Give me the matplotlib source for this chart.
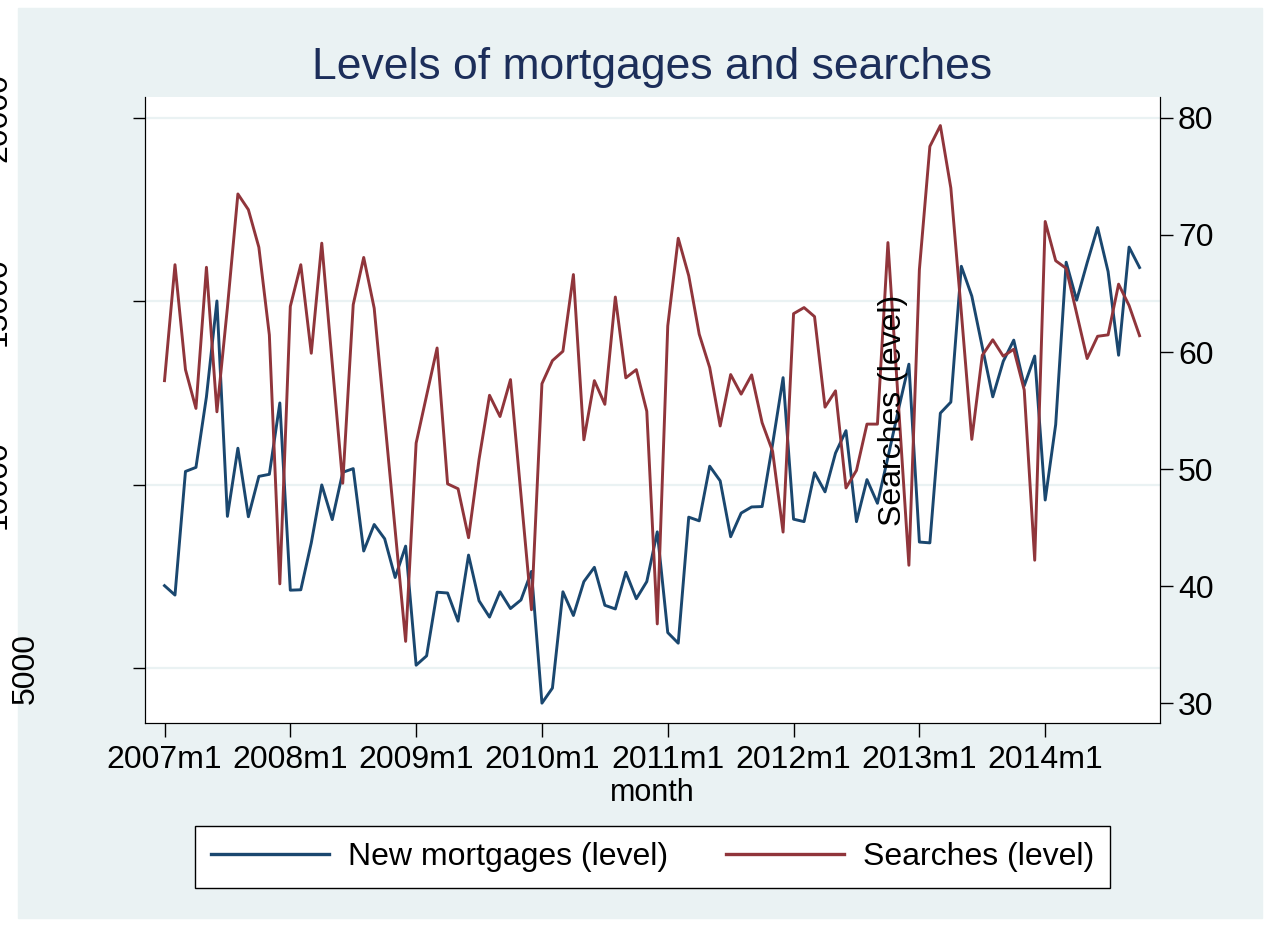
import matplotlib
matplotlib.use('Agg')
import matplotlib.pyplot as plt
from matplotlib.patches import Rectangle
from matplotlib.lines import Line2D

plt.rcParams['font.family'] = ['Liberation Sans', 'DejaVu Sans']

# monthly data, 2007m1 .. 2014m10
years = [2007, 2008, 2009, 2010, 2011, 2012, 2013, 2014]
tick_labels = ['2007m1', '2008m1', '2009m1', '2010m1', '2011m1', '2012m1', '2013m1', '2014m1']

mortgages = [
    7256, 7000, 10367, 10478, 12400, 15011, 9144, 11000, 9133, 10233, 10289, 12233,
    7133, 7144, 8422, 10000, 9056, 10344, 10444, 8200, 8922, 8533, 7478, 8333,
    5089, 5344, 7078, 7056, 6289, 8089, 6844, 6400, 7089, 6633, 6867, 7644,
    4056, 4467, 7089, 6444, 7367, 7756, 6722, 6622, 7622, 6900, 7367, 8722,
    5978, 5689, 9122, 9022, 10511, 10111, 8589, 9233, 9400, 9411, 11111, 12922,
    9067, 9000, 10333, 9811, 10867, 11478, 9000, 10144, 9500, 10750, 12050, 13289,
    8444, 8422, 11956, 12256, 15956, 15144, 13756, 12400, 13367, 13944, 12700, 13511,
    9589, 11644, 16067, 15033, 16050, 17011, 15811, 13533, 16478, 15922,
]

searches = [
    57.56, 67.46, 58.5, 55.19, 67.24, 54.9, 63.8, 73.5, 72.16, 68.95, 61.46, 40.21,
    63.9, 67.46, 59.9, 69.3, 59.0, 48.8, 64.05, 68.08, 63.75, 54.3, 44.8, 35.3,
    52.23, 56.3, 60.35, 48.75, 48.33, 44.15, 50.84, 56.31, 54.5, 57.65, 47.8, 38.0,
    57.3, 59.27, 60.07, 66.62, 52.51, 57.56, 55.54, 64.7, 57.8, 58.5, 54.95, 36.79,
    62.23, 69.72, 66.52, 61.53, 58.68, 53.69, 58.08, 56.41, 58.05, 53.97, 51.53, 44.63,
    63.28, 63.8, 63.03, 55.3, 56.69, 48.4, 49.9, 53.85, 53.85, 69.35, 55.6, 41.8,
    67.04, 77.56, 79.34, 74.01, 63.4, 52.55, 59.72, 61.05, 59.65, 60.24, 56.76, 42.23,
    71.15, 67.8, 67.15, 63.3, 59.45, 61.35, 61.47, 65.8, 63.98, 61.4,
]

left_ticks = [5000, 10000, 15000, 20000]
right_ticks = [30, 40, 50, 60, 70, 80]

months = list(range(len(mortgages)))
tick_pos = [12 * i for i in range(len(years))]

navy = '#1A476F'
maroon = '#90353B'
bg = '#EAF2F3'

fig = plt.figure(figsize=(12.72, 9.26), dpi=100, facecolor='white')
fig.patches.append(Rectangle((18 / 1272, 1 - 918 / 926), (1262 - 18) / 1272, (918 - 8) / 926,
                             transform=fig.transFigure, color=bg, zorder=-1))

ax = fig.add_axes([145 / 1272, 1 - 723 / 926, (1160 - 145) / 1272, (723 - 97) / 926])
ax.set_facecolor('white')
ax.plot(months, mortgages, color=navy, lw=2.1)
ax.set_xlim(-1.86, 94.95)
ax.set_ylim(3515, 20567)
ax.set_yticks(left_ticks)
ax.set_yticklabels([])
ax.yaxis.grid(True, color=bg, lw=1.6)
ax.set_axisbelow(True)
ax.set_xticks(tick_pos)
ax.set_xticklabels(tick_labels, fontsize=23)
ax.tick_params(axis='x', length=10, width=1, pad=6)
ax.tick_params(axis='y', length=9, width=1)
ax.set_xlabel('month', fontsize=22, labelpad=2)
ax.spines['top'].set_visible(False)

# left tick labels, rotated and pushed to the edge like the original export
for v, xoff in zip(left_ticks, [26, -2, -2, -2]):
    ax.text((xoff - 145) / 1015, v, str(v), transform=ax.get_yaxis_transform(),
            rotation=90, ha='center', va='center', fontsize=23)

ax2 = ax.twinx()
ax2.plot(months, searches, color=maroon, lw=2.1)
ax2.set_ylim(28.33, 81.78)
ax2.set_yticks(right_ticks)
ax2.tick_params(axis='y', labelsize=23, length=9, width=1, pad=4)
ax2.spines['top'].set_visible(False)
fig.text(893 / 1272, 1 - 410 / 926, 'Searches (level)', rotation=90,
         ha='center', va='center', fontsize=23)

fig.text(652 / 1272, 1 - 68 / 926, 'Levels of mortgages and searches',
         ha='center', va='center', fontsize=32, color='#1C2E5A')

handles = [Line2D([], [], color=navy, lw=2.4), Line2D([], [], color=maroon, lw=2.4)]
leg = fig.legend(handles, ['New mortgages (level)', 'Searches (level)'], ncol=2,
                 loc='center', bbox_to_anchor=(652.5 / 1272, 1 - 857 / 926),
                 fontsize=23, frameon=True, fancybox=False, edgecolor='black',
                 facecolor='white', framealpha=1,
                 handlelength=3.7, handletextpad=0.6, columnspacing=1.8,
                 borderpad=0.5)
leg.get_frame().set_linewidth(1.0)

plt.savefig('out.png', dpi=100)
